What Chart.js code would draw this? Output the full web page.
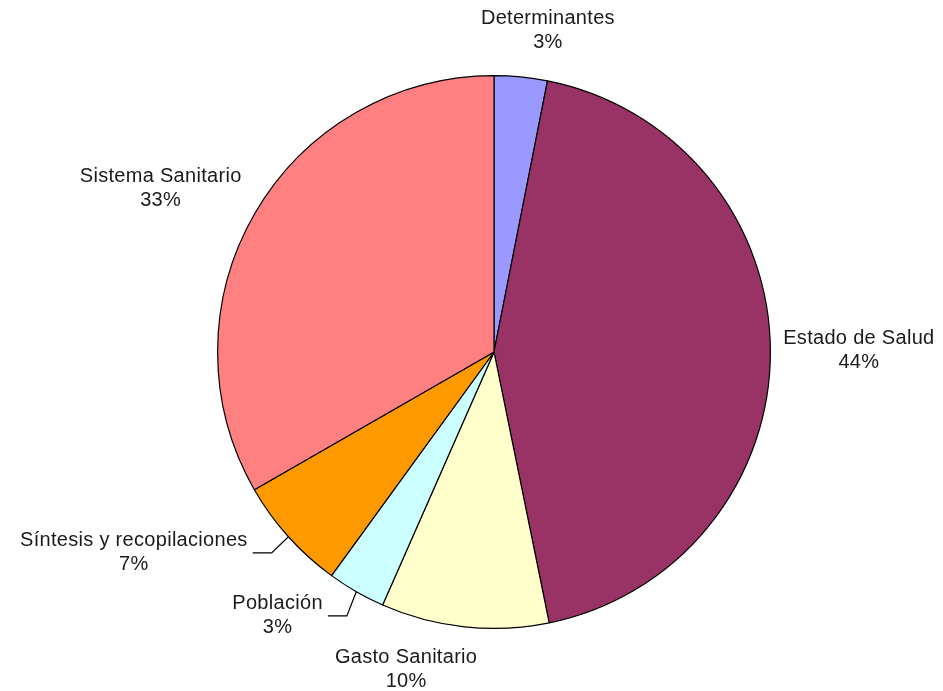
<!DOCTYPE html>
<html>
<head>
<meta charset="utf-8">
<script src="https://cdn.jsdelivr.net/npm/chart.js@4.4.0/dist/chart.umd.min.js"></script>
<style>
  html, body { margin: 0; padding: 0; background: #fff; }
  #wrap { width: 943px; height: 691px; }
</style>
</head>
<body>
<div id="wrap"><canvas id="myChart" width="943" height="691"></canvas></div>
<script>
// data (clockwise from 12 o'clock)
var categories = ["Determinantes", "Estado de Salud", "Gasto Sanitario", "Población", "Síntesis y recopilaciones", "Sistema Sanitario"];
var shares = [3.1, 43.7, 9.8, 3.4, 6.7, 33.3];
var sliceColors = ["#9999FF", "#993366", "#FFFFCC", "#CCFFFF", "#FF9900", "#FF8080"];

// where each label block sits, as a fraction of the radius from the pie centre
var labelOffset = [[0.195, -1.165], [1.32, -0.005], [-0.318, 1.15], [-0.783, 0.955], [-1.303, 0.727], [-1.206, -0.59]];
var hasLeader = [false, false, false, true, true, false];

var total = shares.reduce(function (a, b) { return a + b; }, 0);

var labelPlugin = {
    id: "pieLabels",
    afterDraw: function (chart) {
        var ctx = chart.ctx;
        var arcs = chart.getDatasetMeta(0).data;
        ctx.save();
        ctx.font = "20px 'Liberation Sans', Arial, sans-serif";
        ctx.letterSpacing = "0.3px";
        ctx.fillStyle = "#1a1a1a";
        ctx.strokeStyle = "#000";
        ctx.lineWidth = 1.2;
        ctx.textAlign = "center";
        ctx.textBaseline = "middle";
        for (var i = 0; i < arcs.length; i++) {
            var a = arcs[i];
            var r = a.outerRadius;
            var lx = a.x + labelOffset[i][0] * r;
            var ly = a.y + labelOffset[i][1] * r;
            var pct = Math.round(shares[i] / total * 100) + "%";
            ctx.fillText(categories[i], lx, ly - 12);
            ctx.fillText(pct, lx, ly + 12);
            if (hasLeader[i]) {
                var mid = (a.startAngle + a.endAngle) / 2;
                var ex = a.x + Math.cos(mid) * r;
                var ey = a.y + Math.sin(mid) * r;
                var w = ctx.measureText(categories[i]).width;
                var sx = lx + w / 2 + 5;
                ctx.beginPath();
                ctx.moveTo(sx, ly);
                ctx.lineTo(sx + 19, ly);
                ctx.lineTo(ex, ey);
                ctx.stroke();
            }
        }
        ctx.restore();
    }
};

new Chart("myChart", {
    type: "pie",
    data: {
        labels: categories,
        datasets: [{
            data: shares,
            backgroundColor: sliceColors,
            borderColor: "#000",
            borderWidth: 1.2
        }]
    },
    options: {
        responsive: false,
        animation: false,
        layout: { padding: { top: 75, bottom: 62, left: 45, right: 0 } },
        plugins: {
            legend: { display: false },
            tooltip: { enabled: false }
        }
    },
    plugins: [labelPlugin]
});
</script>
</body>
</html>
